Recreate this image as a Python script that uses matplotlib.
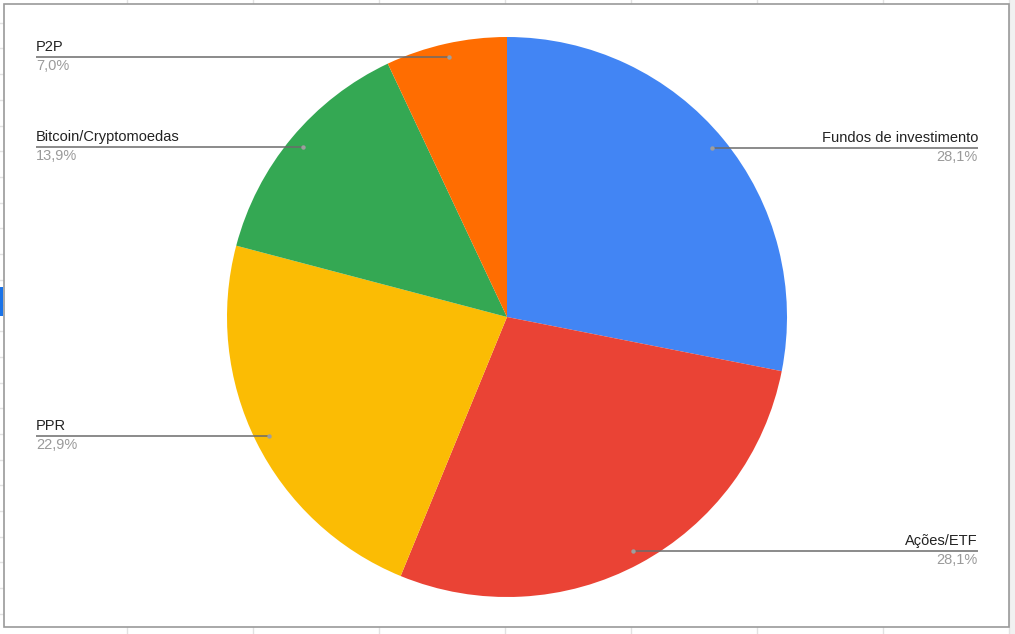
import numpy as np
import matplotlib.pyplot as plt
from matplotlib.patches import Rectangle

labels = ['Fundos de investimento', 'Ações/ETF', 'PPR', 'Bitcoin/Cryptomoedas', 'P2P']
shares = [28.1, 28.1, 22.9, 13.9, 7.0]
pct_text = ['28,1%', '28,1%', '22,9%', '13,9%', '7,0%']
colors = ['#4285f4', '#ea4335', '#fbbc04', '#34a853', '#ff6d01']

W, H = 1015, 634
cx, cy, R = 507, 317, 280

fig = plt.figure(figsize=(W / 100, H / 100), dpi=100)
fig.patch.set_facecolor('#f1f1f1')
ax = fig.add_axes([0, 0, 1, 1])
ax.set_xlim(0, W)
ax.set_ylim(H, 0)
ax.axis('off')

# spreadsheet background around the chart
ax.add_patch(Rectangle((0, 0), 1010, H, facecolor='white', edgecolor='none', zorder=0))
for x in np.arange(127, 1010, 126):
    ax.plot([x, x], [0, H], color='#e2e2e2', lw=1, zorder=0.5)
for y in np.arange(-3, H, 25.7):
    ax.plot([0, 4], [y, y], color='#e2e2e2', lw=1, zorder=0.5)
ax.add_patch(Rectangle((0, 287), 3, 29, facecolor='#1a73e8', edgecolor='none', zorder=1))
ax.add_patch(Rectangle((4, 4), 1005, 623, facecolor='white', edgecolor='#9a9a9a', lw=1.2, zorder=1))

# y axis is inverted, so counterclock=True runs clockwise on screen
wedges, _ = ax.pie(shares, colors=colors, startangle=-90, counterclock=True,
                   center=(cx, cy), radius=R, frame=True,
                   wedgeprops=dict(linewidth=0, zorder=2))
ax.set_xlim(0, W)
ax.set_ylim(H, 0)
ax.set_aspect('equal')
ax.axis('off')

for w, lab, pct in zip(wedges, labels, pct_text):
    ang = np.deg2rad((w.theta1 + w.theta2) / 2)
    px = cx + 0.95 * R * np.cos(ang)
    py = cy + 0.95 * R * np.sin(ang)
    if px > cx:
        xe, ha = 978, 'right'
    else:
        xe, ha = 36, 'left'
    ax.plot([px, xe], [py, py], color='#6b6b6b', lw=1.1, zorder=3, solid_capstyle='butt')
    ax.plot(px, py, 'o', color='#9e9e9e', ms=3.2, mec='none', zorder=4)
    ax.text(xe, py - 3, lab, ha=ha, va='bottom', fontsize=10.5, color='#222222',
            family='Liberation Sans', zorder=5)
    ax.text(xe, py + 2, pct, ha=ha, va='top', fontsize=10.5, color='#9a9a9a',
            family='Liberation Sans', zorder=5)

fig.savefig('out.png', dpi=100, facecolor=fig.get_facecolor())
